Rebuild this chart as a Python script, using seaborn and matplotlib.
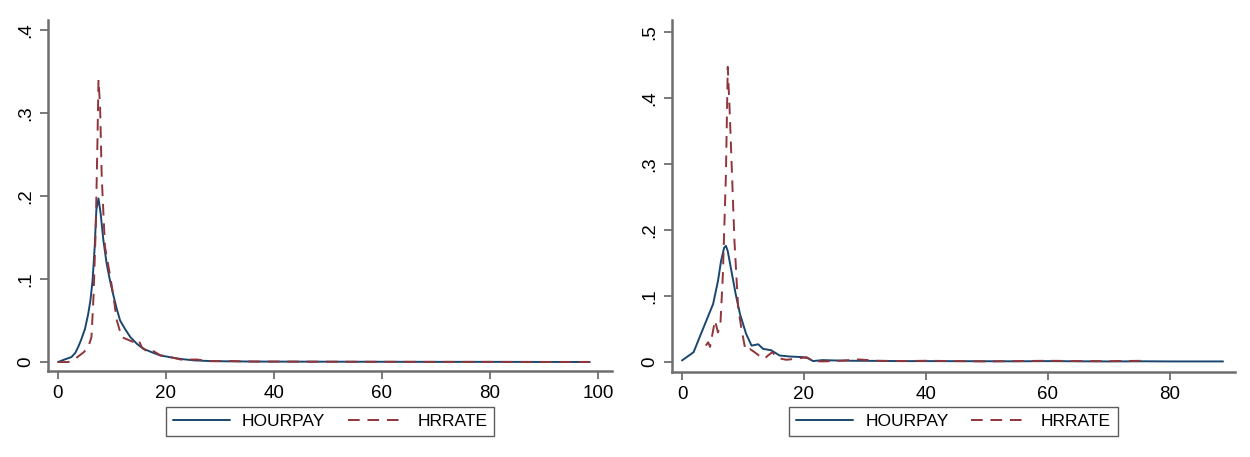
import numpy as np
import pandas as pd
import seaborn as sns
import matplotlib.pyplot as plt
from matplotlib.lines import Line2D

# left panel: density of hourly pay
left_hourpay_x = [0, 1.2, 2.5, 3.2, 3.8, 4.3, 5.0, 5.6, 6.0, 6.4, 6.8, 7.1, 7.5, 7.9,
                  8.4, 9.0, 9.6, 10.2, 10.8, 11.5, 12.4, 13.4, 14.6, 15.8, 17.3,
                  18.9, 20.2, 21.4, 23.0, 25.2, 28, 32, 36, 40, 50, 60, 70, 80, 90,
                  98.5]
left_hourpay_y = [0.0, 0.003, 0.006, 0.011, 0.019, 0.027, 0.04, 0.058, 0.074, 0.098,
                  0.139, 0.183, 0.197, 0.179, 0.147, 0.119, 0.099, 0.082, 0.066,
                  0.05, 0.04, 0.03, 0.022, 0.016, 0.012, 0.008, 0.0065, 0.005,
                  0.0035, 0.002, 0.0012, 0.0008, 0.0006, 0.0005, 0.0004, 0.0003,
                  0.0002, 0.0002, 0.0001, 0.0001]
left_hrrate_x = [0, 1.9, 2.8, 4.0, 4.8, 5.6, 6.2, 6.6, 7.0, 7.3, 7.5, 7.8, 8.1, 8.7,
                 9.6, 10.2, 10.9, 11.8, 12.9, 14.0, 14.9, 15.5, 16.8, 17.7, 19.0,
                 20.2, 22.7, 25.8, 28, 32, 36, 40, 50, 60, 70, 80, 90, 98.5]
left_hrrate_y = [0.0, 0.0, 0.002, 0.008, 0.012, 0.018, 0.03, 0.082, 0.163, 0.263,
                 0.34, 0.307, 0.223, 0.139, 0.106, 0.082, 0.05, 0.03, 0.027, 0.024,
                 0.027, 0.018, 0.011, 0.013, 0.008, 0.007, 0.003, 0.003, 0.001,
                 0.0012, 0.0006, 0.0006, 0.0004, 0.0003, 0.0002, 0.0002, 0.0001,
                 0.0001]

# right panel
right_hourpay_x = [0, 1.9, 2.9, 4.0, 5.1, 5.9, 6.4, 6.9, 7.2, 7.5, 8.1, 8.8, 9.5,
                   10.5, 11.4, 12.5, 13.3, 14.6, 16.0, 17.6, 19.8, 20.6, 21.5, 23.0,
                   25, 28, 32, 36, 40, 45, 50, 55, 60, 65, 70, 76, 80, 85, 88.7]
right_hourpay_y = [0.0025, 0.015, 0.038, 0.063, 0.088, 0.123, 0.153, 0.173, 0.176,
                   0.168, 0.138, 0.103, 0.073, 0.043, 0.025, 0.027, 0.02, 0.018,
                   0.01, 0.0085, 0.0075, 0.006, 0.0015, 0.003, 0.0025, 0.002,
                   0.0018, 0.0015, 0.0015, 0.0014, 0.0013, 0.0012, 0.0015, 0.0012,
                   0.001, 0.0012, 0.001, 0.001, 0.001]
right_hrrate_x = [3.9, 4.3, 4.6, 5.4, 5.9, 6.3, 6.7, 7.2, 7.5, 7.8, 8.1, 8.6, 9.2,
                  9.7, 10.4, 11.1, 11.9, 12.6, 13.5, 14.1, 14.8, 15.5, 16.3, 17.1,
                  18.7, 20.4, 21.5, 23.1, 26, 29, 32, 36, 40, 45, 50, 55, 60, 65,
                  70, 76.5]
right_hrrate_y = [0.025, 0.03, 0.023, 0.063, 0.045, 0.058, 0.133, 0.284, 0.447,
                  0.384, 0.309, 0.183, 0.083, 0.053, 0.018, 0.02, 0.015, 0.01,
                  0.005, 0.01, 0.015, 0.0075, 0.005, 0.0035, 0.005, 0.0075, 0.0015,
                  0.001, 0.002, 0.004, 0.002, 0.0015, 0.002, 0.0015, 0.001, 0.0015,
                  0.002, 0.0015, 0.0015, 0.002]

left_yticks = [0, 0.1, 0.2, 0.3, 0.4]
left_yticklabels = ['0', '.1', '.2', '.3', '.4']
left_xticks = [0, 20, 40, 60, 80, 100]
right_yticks = [0, 0.1, 0.2, 0.3, 0.4, 0.5]
right_yticklabels = ['0', '.1', '.2', '.3', '.4', '.5']
right_xticks = [0, 20, 40, 60, 80]

series_names = ['HOURPAY', 'HRRATE']

navy = '#1a476f'
maroon = '#90353b'
axis_grey = '#6e6e6e'
dash = (0, (6, 4))

sns.set_style('white')
plt.rcParams['font.family'] = ['Liberation Sans', 'DejaVu Sans']

fig = plt.figure(figsize=(12.5, 4.57), dpi=100)
ax1 = fig.add_axes([48/1250, 1 - 371/457, 564/1250, 351/457])
ax2 = fig.add_axes([672/1250, 1 - 372/457, 563/1250, 352/457])


def draw(ax, hx, hy, rx, ry, xticks, yticks, ylabels, xlim, ylim):
    sns.lineplot(x=hx, y=hy, ax=ax, color=navy, lw=1.4, sort=False)
    sns.lineplot(x=rx, y=ry, ax=ax, color=maroon, lw=1.4, sort=False,
                 linestyle=dash)
    ax.set_xlim(*xlim)
    ax.set_ylim(*ylim)
    ax.set_xticks(xticks)
    ax.set_yticks(yticks)
    ax.set_yticklabels(ylabels, rotation=90, va='center')
    ax.tick_params(axis='both', direction='out', length=6, width=1.3,
                   color=axis_grey, labelcolor='black', labelsize=13.5, pad=4,
                   bottom=True, left=True)
    for s in ['top', 'right']:
        ax.spines[s].set_visible(False)
    for s in ['left', 'bottom']:
        ax.spines[s].set_color(axis_grey)
        ax.spines[s].set_linewidth(1.8)
    ax.set_xlabel('')
    ax.set_ylabel('')

    handles = [Line2D([], [], color=navy, lw=1.4),
               Line2D([], [], color=maroon, lw=1.4, linestyle=dash)]
    pos = ax.get_position()
    leg = fig.legend(handles, series_names, ncol=2, loc='center',
                     bbox_to_anchor=(pos.x0 + pos.width / 2, 1 - 421.5/457),
                     fontsize=12.5, frameon=True, fancybox=False,
                     handlelength=3.3, handletextpad=0.7, columnspacing=1.3,
                     borderpad=0.4)
    for t in leg.get_texts():
        t.set_color('black')
    leg.get_frame().set_edgecolor('#333333')
    leg.get_frame().set_linewidth(1.0)


draw(ax1, left_hourpay_x, left_hourpay_y, left_hrrate_x, left_hrrate_y,
     left_xticks, left_yticks, left_yticklabels, (-1.85, 102.6), (-0.0108, 0.412))
draw(ax2, right_hourpay_x, right_hourpay_y, right_hrrate_x, right_hrrate_y,
     right_xticks, right_yticks, right_yticklabels, (-1.64, 90.66), (-0.015, 0.518))

fig.savefig('out.png', dpi=100, facecolor='white')
